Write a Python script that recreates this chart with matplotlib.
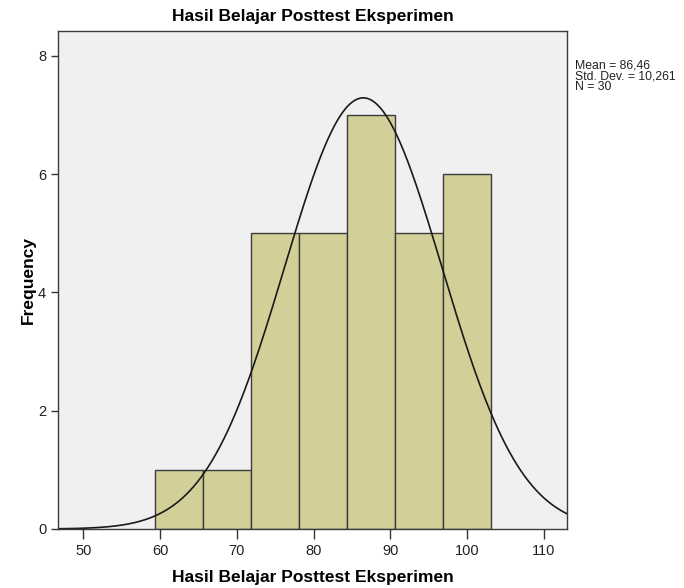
import numpy as np
import matplotlib.pyplot as plt

plt.rcParams['font.family'] = ['Liberation Sans', 'DejaVu Sans']

# histogram data
bin_edges = [59.375, 65.625, 71.875, 78.125, 84.375, 90.625, 96.875, 103.125]
counts = [1, 1, 5, 5, 7, 5, 6]
mean = 86.46
std_dev = 10.261
n = 30
x_ticks = [50, 60, 70, 80, 90, 100, 110]
y_ticks = [0, 2, 4, 6, 8]

fig = plt.figure(figsize=(6.84, 5.88), dpi=100)
ax = fig.add_axes([58/684, 59/588, 509/684, 498/588])
ax.set_facecolor('#f0f0f0')

widths = np.diff(bin_edges)
ax.bar(bin_edges[:-1], counts, width=widths, align='edge',
       color='#d3cf98', edgecolor='#3c3c3c', linewidth=1.0)

# normal curve scaled to the histogram
xs = np.linspace(46.7, 113.0, 400)
bw = widths[0]
ys = n * bw / (std_dev * np.sqrt(2 * np.pi)) * np.exp(-0.5 * ((xs - mean) / std_dev) ** 2)
ax.plot(xs, ys, color='#1a1a1a', linewidth=1.2)

ax.set_xlim(46.7, 113.0)
ax.set_ylim(0, 8.42)
ax.set_xticks(x_ticks)
ax.set_yticks(y_ticks)
ax.tick_params(axis='x', length=7, width=1, colors='#333333', labelsize=10.5, labelcolor='#222222')
ax.tick_params(axis='y', length=5, width=1, colors='#333333', labelsize=10.5, labelcolor='#222222')
for s in ax.spines.values():
    s.set_color('#3c3c3c')
    s.set_linewidth(1.0)

ax.set_title('Hasil Belajar Posttest Eksperimen', fontsize=12.5, fontweight='bold', pad=7)
ax.set_xlabel('Hasil Belajar Posttest Eksperimen', fontsize=12.5, fontweight='bold', labelpad=9)
ax.set_ylabel('Frequency', fontsize=12.5, fontweight='bold', labelpad=20)
ax.yaxis.set_label_coords(-22/509, 0.5)

fig.text(575/684, 1 - 59/588, 'Mean = 86,46\nStd. Dev. = 10,261\nN = 30',
         fontsize=8.8, va='top', ha='left', linespacing=0.9, color='#222222')

fig.savefig('out.png', dpi=100)
